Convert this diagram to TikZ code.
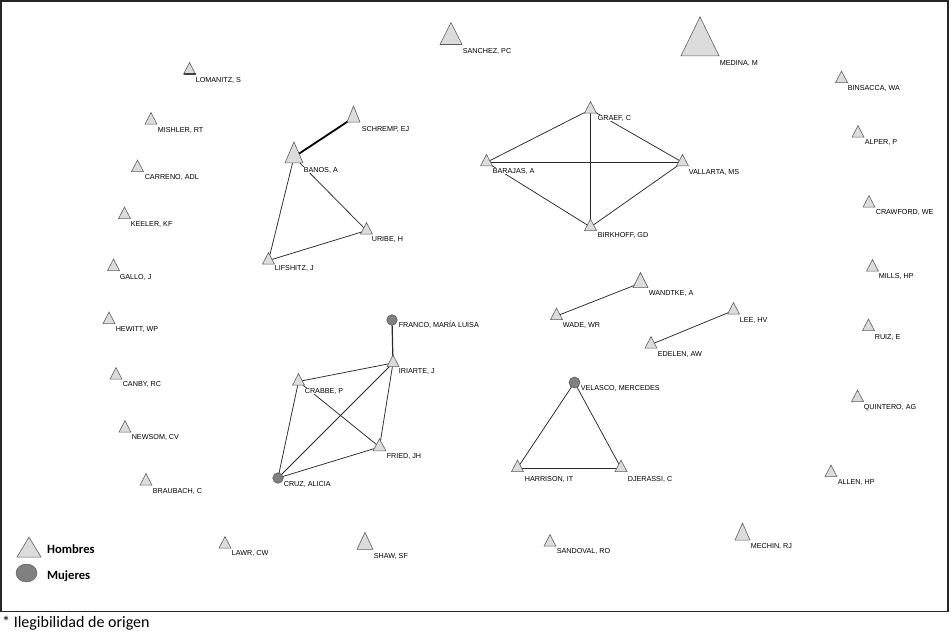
\documentclass[tikz,border=0pt]{standalone}
\usepackage{fontspec}
\usetikzlibrary{shapes.geometric}
\newfontfamily\lblfont{Liberation Sans}
\newfontfamily\calfont{Carlito}
\definecolor{trifill}{HTML}{DCDCDC}
\definecolor{triedge}{HTML}{5E5E5E}
\definecolor{womfill}{HTML}{808080}
\definecolor{womedge}{HTML}{5A5A5A}
\definecolor{linkcol}{HTML}{2A2A2A}
\pgfdeclarelayer{bg}
\pgfdeclarelayer{lbl}
\pgfsetlayers{bg,lbl,main}
\tikzset{
  man/.style={isosceles triangle, isosceles triangle stretches, shape border rotate=90,
    draw=triedge, fill=trifill, inner sep=0pt, outer sep=0pt, line width=0.6pt,
    minimum width=12pt, minimum height=11.5pt},
  woman/.style={circle, draw=womedge, fill=womfill, inner sep=0pt, outer sep=0pt,
    line width=0.6pt, minimum size=10.5pt},
  persontxt/.style={anchor=west, inner sep=0.6pt, fill=white, font=\lblfont\fontsize{7.2pt}{8pt}\selectfont,
    text height=5.2pt, text depth=0pt, text=black},
  link/.style={draw=linkcol, line width=0.75pt},
  stronglink/.style={draw=black, line width=1.8pt},
  legtxt/.style={anchor=west, inner sep=0pt, font=\calfont\bfseries\fontsize{12.6pt}{14pt}\selectfont}
}
\begin{document}
\begin{tikzpicture}[x=1pt,y=-1pt]
\useasboundingbox (0,0) rectangle (951,634);
\draw[line width=1.3pt, draw=black!85] (1,1) rectangle (948,611.5);

% people (men)
\node[man] (lomanitz) at (189.5,70.5) {};
\node[man] (mishler) at (151,120.5) {};
\node[man] (carreno) at (137.5,168) {};
\node[man] (keeler) at (124.5,215) {};
\node[man] (gallo) at (113.5,267) {};
\node[man] (hewitt) at (109,320) {};
\node[man] (canby) at (116,375.5) {};
\node[man] (newsom) at (125,428.5) {};
\node[man] (braubach) at (146,481.5) {};
\node[man] (lawr) at (225,544.5) {};
\node[man, minimum width=16pt, minimum height=17pt] (shaw) at (365,544.3) {};
\node[man] (sandoval) at (550,542.5) {};
\node[man, minimum width=15pt, minimum height=17pt] (mechin) at (742.5,535.3) {};
\node[man] (allen) at (831,473) {};
\node[man] (quintero) at (857.5,398) {};
\node[man] (ruiz) at (868.5,327) {};
\node[man] (mills) at (872.5,267.5) {};
\node[man] (crawford) at (869,203.5) {};
\node[man] (alper) at (858,133.5) {};
\node[man] (binsacca) at (841.5,79) {};
\node[man, minimum width=38pt, minimum height=39pt] (medina) at (700,44) {};
\node[man, minimum width=22pt, minimum height=22pt] (sanchez) at (451,37.7) {};
\node[man, minimum width=13pt, minimum height=16pt] (schremp) at (353.5,117.7) {};
\node[man, minimum width=18pt, minimum height=21pt] (banos) at (294,157) {};
\node[man] (uribe) at (366.5,230.5) {};
\node[man] (lifshitz) at (268.5,260.5) {};
\node[man] (graef) at (590.5,109.5) {};
\node[man] (barajas) at (486.5,162.3) {};
\node[man] (vallarta) at (682.5,162.3) {};
\node[man] (birkhoff) at (590.5,227) {};
\node[man, minimum width=15pt, minimum height=15pt] (wandtke) at (640.5,283) {};
\node[man] (wade) at (556.5,316) {};
\node[man] (lee) at (733.5,310.5) {};
\node[man] (edelen) at (651,344.5) {};
\node[man] (harrison) at (517.5,468) {};
\node[man] (djerassi) at (621,468) {};
\node[man] (iriarte) at (393,363) {};
\node[man] (crabbe) at (298.5,381.5) {};
\node[man, minimum width=13pt, minimum height=12pt] (fried) at (379.5,447) {};
% women
\node[woman, minimum size=11pt] (velasco) at (574.5,382.5) {};
\node[woman] (franco) at (392,320) {};
\node[woman] (cruz) at (278,478) {};
\draw[line width=1.3pt, draw=triedge!70!black] (lomanitz.left corner) -- (lomanitz.right corner);

% labels
\begin{pgfonlayer}{lbl}
\node[persontxt] (l1) at (195,80) {LOMANITZ, S};
\node[persontxt] (l2) at (157,130) {MISHLER, RT};
\node[persontxt] (l3) at (144,177) {CARRENO, ADL};
\node[persontxt] (l4) at (130,224) {KEELER, KF};
\node[persontxt] (l5) at (119,277) {GALLO, J};
\node[persontxt] (l6) at (115,329) {HEWITT, WP};
\node[persontxt] (l7) at (122,384) {CANBY, RC};
\node[persontxt] (l8) at (131,437) {NEWSOM, CV};
\node[persontxt] (l9) at (152,491) {BRAUBACH, C};
\node[persontxt] (l10) at (231,553) {LAWR, CW};
\node[persontxt] (l11) at (373,556) {SHAW, SF};
\node[persontxt] (l12) at (556,551) {SANDOVAL, RO};
\node[persontxt] (l13) at (750,546) {MECHIN, RJ};
\node[persontxt] (l14) at (837,482) {ALLEN, HP};
\node[persontxt] (l15) at (863,407) {QUINTERO, AG};
\node[persontxt] (l16) at (874,337) {RUIZ, E};
\node[persontxt] (l17) at (878,276) {MILLS, HP};
\node[persontxt] (l18) at (875,212) {CRAWFORD, WE};
\node[persontxt] (l19) at (864,142) {ALPER, P};
\node[persontxt] (l20) at (847,88) {BINSACCA, WA};
\node[persontxt] (l21) at (719,63) {MEDINA, M};
\node[persontxt] (l22) at (462,51) {SANCHEZ, PC};
\node[persontxt] (l23) at (361,129) {SCHREMP, EJ};
\node[persontxt] (l24) at (303,170) {BANOS, A};
\node[persontxt] (l25) at (371,239) {URIBE, H};
\node[persontxt] (l26) at (274,268) {LIFSHITZ, J};
\node[persontxt] (l27) at (597,118) {GRAEF, C};
\node[persontxt] (l28) at (492,171) {BARAJAS, A};
\node[persontxt] (l29) at (688,172) {VALLARTA, MS};
\node[persontxt] (l30) at (597,235) {BIRKHOFF, GD};
\node[persontxt] (l31) at (648,293) {WANDTKE, A};
\node[persontxt] (l32) at (562,325) {WADE, WR};
\node[persontxt] (l33) at (739,320) {LEE, HV};
\node[persontxt] (l34) at (657,354) {EDELEN, AW};
\node[persontxt] (l35) at (580,388) {VELASCO, MERCEDES};
\node[persontxt] (l36) at (524,479) {HARRISON, IT};
\node[persontxt] (l37) at (627,479) {DJERASSI, C};
\node[persontxt] (l38) at (398,325) {FRANCO, MARÍA LUISA};
\node[persontxt] (l39) at (398,371) {IRIARTE, J};
\node[persontxt] (l40) at (304,391) {CRABBE, P};
\node[persontxt] (l41) at (386,456) {FRIED, JH};
\node[persontxt] (l42) at (283,484) {CRUZ, ALICIA};
\end{pgfonlayer}

% links
\begin{pgfonlayer}{bg}
\draw[stronglink] (banos.center) -- (schremp.center);
\draw[link] (banos.center) -- (lifshitz.center);
\draw[link] (banos.center) -- (uribe.center);
\draw[link] (lifshitz.center) -- (uribe.center);
\draw[link] (graef.center) -- (barajas.center);
\draw[link] (graef.center) -- (vallarta.center);
\draw[link] (graef.center) -- (birkhoff.center);
\draw[link] (barajas.center) -- (vallarta.center);
\draw[link] (barajas.center) -- (birkhoff.center);
\draw[link] (birkhoff.center) -- (vallarta.center);
\draw[link] (wandtke.center) -- (wade.center);
\draw[link] (lee.center) -- (edelen.center);
\draw[link] (velasco.center) -- (harrison.center);
\draw[link] (velasco.center) -- (djerassi.center);
\draw[link] (harrison.center) -- (djerassi.center);
\draw[link, line width=1.2pt] (franco.center) -- (iriarte.center);
\draw[link] (iriarte.center) -- (crabbe.center);
\draw[link] (iriarte.center) -- (cruz.center);
\draw[link] (iriarte.center) -- (fried.center);
\draw[link] (crabbe.center) -- (cruz.center);
\draw[link] (crabbe.center) -- (fried.center);
\draw[link] (cruz.center) -- (fried.center);
\end{pgfonlayer}

% legend
\node[man, minimum width=24pt, minimum height=20pt] (legman) at (29,550.3) {};
\node[legtxt] (legmantxt) at (47,549) {Hombres};
\node[ellipse, draw=womedge, fill=womfill, inner sep=0pt, minimum width=21pt, minimum height=18pt] (legwoman) at (26.5,573) {};
\node[legtxt] (legwomantxt) at (47,576) {Mujeres};

% footnote
\node[anchor=west, inner sep=0pt, font=\calfont\fontsize{16pt}{18pt}\selectfont] (foot) at (2,623.5) {* Ilegibilidad de origen};
\end{tikzpicture}
\end{document}
